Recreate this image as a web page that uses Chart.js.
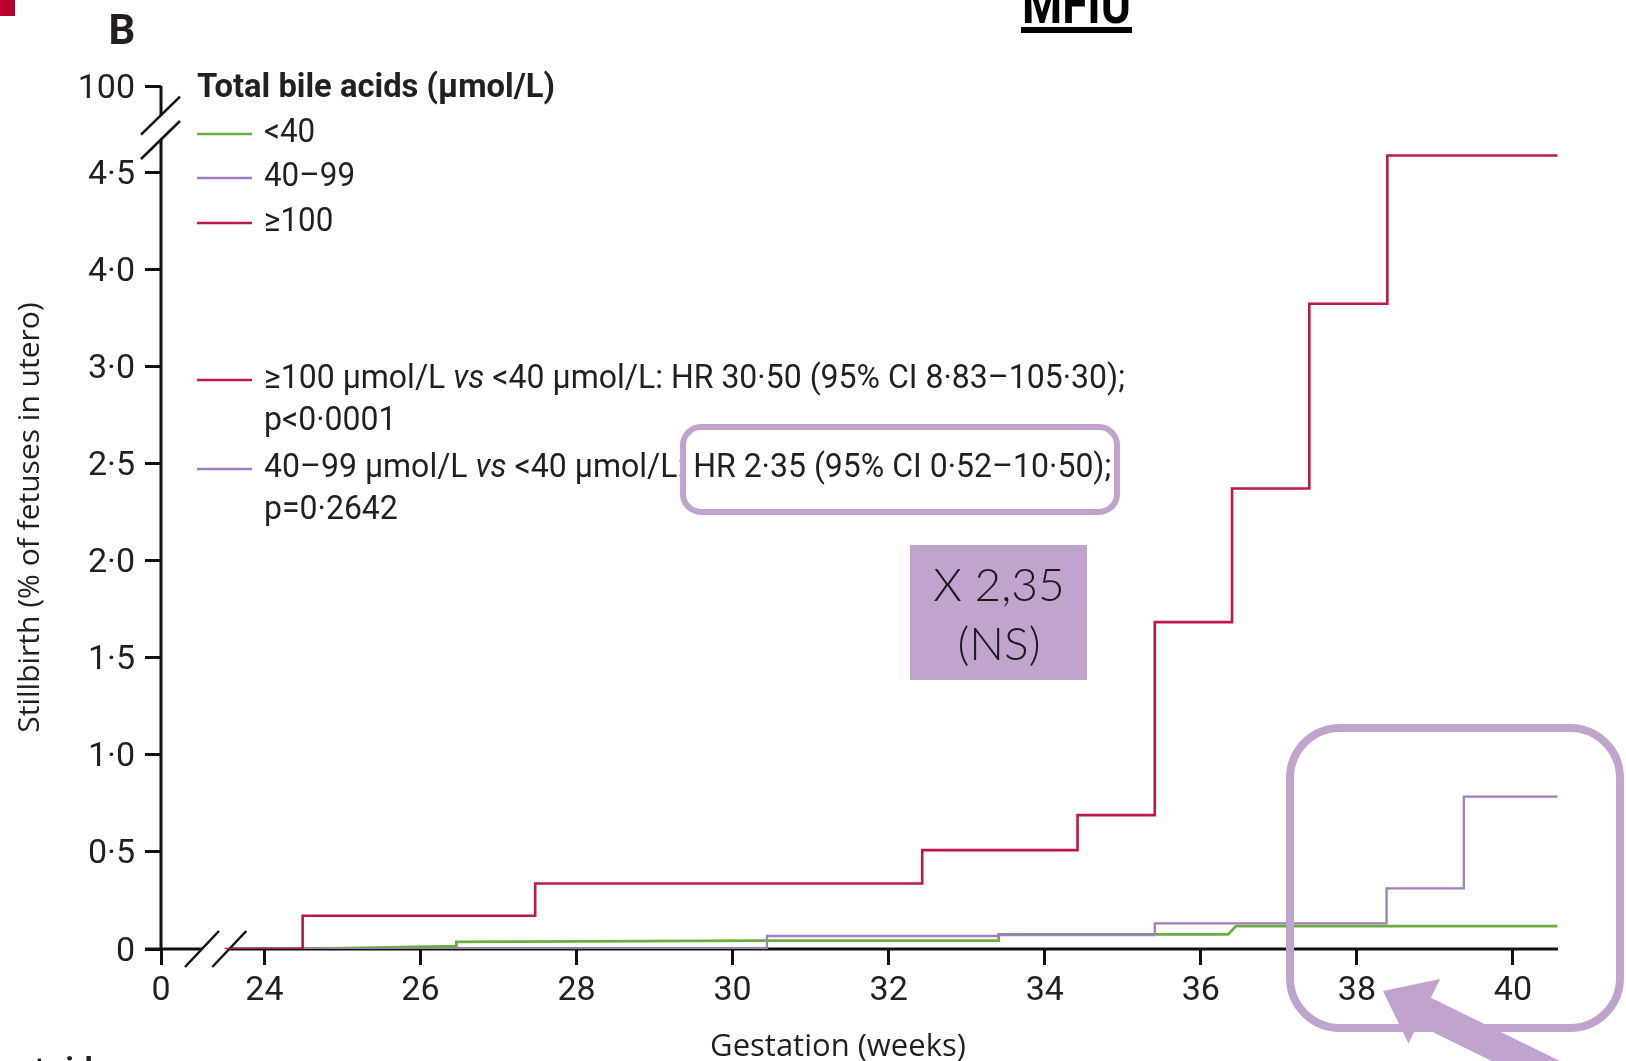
<!DOCTYPE html>
<html>
<head>
<meta charset="utf-8">
<script src="https://cdn.jsdelivr.net/npm/chart.js@4.4.1/dist/chart.umd.min.js"></script>
<style>
html, body { margin: 0; padding: 0; background: #fff; overflow: hidden; }
canvas { display: block; }
</style>
</head>
<body>
<canvas id="km" width="1626" height="1061"></canvas>
<script>
// gestation (weeks) and cumulative stillbirth (y in axis units)
const groupNames = ['<40', '40–99', '≥100'];

const redWeeks = [23.49, 24.49, 27.47, 32.43, 34.42, 35.41, 36.40, 37.39, 38.39, 40.57];
const redRisk  = [0, 0.171, 0.337, 0.509, 0.689, 1.683, 2.371, 3.322, 4.085, 4.085];

const purpleWeeks = [24.49, 30.44, 33.41, 35.41, 38.38, 39.37, 40.57];
const purpleRisk  = [0, 0.067, 0.072, 0.132, 0.312, 0.784, 0.784];

const greenWeeks = [24.49, 26.46, 26.46, 30.40, 33.41, 33.41, 36.35, 36.45, 40.57];
const greenRisk  = [0, 0.015, 0.037, 0.043, 0.043, 0.075, 0.075, 0.118, 0.118];

const xTickValues = [22.675, 24, 26, 28, 30, 32, 34, 36, 38, 40];
const xTickLabels = ['0', '24', '26', '28', '30', '32', '34', '36', '38', '40'];
const yTickValues = [0, 0.5, 1, 1.5, 2, 2.5, 3, 3.5, 4, 4.443];
const yTickLabels = ['0', '0·5', '1·0', '1·5', '2·0', '2·5', '3·0', '4·0', '4·5', '100'];

const SANS = 'Roboto, "Liberation Sans", sans-serif';
const INK = '#231f20';
const RED = '#c0174a', PURPLE = '#a07ec0', GREEN = '#6aaf3c';
const MAUVE = '#c0a4cd';

function pts(xs, ys) { return xs.map((x, i) => ({x: x, y: ys[i]})); }

function seg(ctx, x1, y1, x2, y2) {
    ctx.beginPath(); ctx.moveTo(x1, y1); ctx.lineTo(x2, y2); ctx.stroke();
}

// text squeezed horizontally by sq
function sqText(ctx, text, x, y, sq) {
    ctx.save();
    ctx.translate(x, y);
    ctx.scale(sq, 1);
    ctx.fillText(text, 0, 0);
    ctx.restore();
    return ctx.measureText(text).width * sq;
}

function partsWidth(ctx, parts, size) {
    let w = 0;
    parts.forEach(p => {
        ctx.font = (p[1] ? 'italic ' : '') + size + 'px ' + SANS;
        w += ctx.measureText(p[0]).width;
    });
    return w;
}

const overlay = {
    id: 'overlay',
    beforeDraw(chart) {
        const ctx = chart.ctx;
        ctx.save();
        ctx.fillStyle = '#fff';
        ctx.fillRect(0, 0, chart.width, chart.height);
        ctx.restore();
    },
    beforeDatasetsDraw(chart) {
        const ctx = chart.ctx;
        const xs = chart.scales.x, ys = chart.scales.y;
        const ax = ys.getPixelForValue(0);
        const left = xs.getPixelForValue(xs.min);
        ctx.save();
        ctx.strokeStyle = '#111';
        ctx.lineWidth = 3;
        ctx.lineCap = 'butt';
        const brk1 = xs.getPixelForValue(23.2), brk2 = xs.getPixelForValue(23.55);
        seg(ctx, left - 16, ax, brk1, ax);
        seg(ctx, brk2, ax, xs.getPixelForValue(xs.max), ax);
        const ybLow = ys.getPixelForValue(4.165), ybHigh = ys.getPixelForValue(4.29);
        seg(ctx, left, ax, left, ybLow);
        seg(ctx, left, ybHigh, left, ys.getPixelForValue(ys.max));
        ctx.lineWidth = 2.5;
        [ybLow, ybHigh].forEach(y => seg(ctx, left - 20, y + 19, left + 19, y - 19));
        [brk1, brk2].forEach(x => seg(ctx, x - 17, ax + 18, x + 17, ax - 18));
        ctx.restore();
    },
    afterDraw(chart) {
        const ctx = chart.ctx;
        ctx.save();

        // legend
        const ds = chart.data.datasets;
        ctx.fillStyle = INK;
        ctx.textBaseline = 'middle';
        ctx.textAlign = 'left';
        ctx.font = 'bold 33px ' + SANS;
        const title = 'Total bile acids (µmol/L)';
        sqText(ctx, title, 197, 89, 358 / ctx.measureText(title).width);
        const legendY = [134, 178, 223];
        ctx.font = '33px ' + SANS;
        ctx.lineWidth = 2.5;
        [2, 1, 0].forEach((di, k) => {
            ctx.strokeStyle = ds[di].borderColor;
            seg(ctx, 197, legendY[k], 252, legendY[k]);
            sqText(ctx, groupNames[k], 264, legendY[k], 0.95);
        });

        // hazard ratios
        const hr1 = [['≥100 µmol/L ', 0], ['vs', 1], [' <40 µmol/L: HR 30·50 (95% CI 8·83–105·30);', 0]];
        const hr2 = [['40–99 µmol/L ', 0], ['vs', 1], [' <40 µmol/L: HR 2·35 (95% CI 0·52–10·50);', 0]];
        const sq = 861 / partsWidth(ctx, hr1, 33);
        function rich(parts, x, y) {
            parts.forEach(p => {
                ctx.font = (p[1] ? 'italic ' : '') + '33px ' + SANS;
                x += sqText(ctx, p[0], x, y, sq);
            });
        }
        ctx.strokeStyle = RED;
        seg(ctx, 197, 380, 252, 380);
        rich(hr1, 264, 380);
        rich([['p<0·0001', 0]], 264, 422);
        ctx.strokeStyle = PURPLE;
        seg(ctx, 197, 469, 252, 469);
        rich(hr2, 264, 469);
        rich([['p=0·2642', 0]], 264, 511);

        // axis title x
        ctx.font = '31px "Open Sans", sans-serif';
        ctx.textAlign = 'center';
        ctx.fillText('Gestation (weeks)', 838, 1047);

        // panel letter, headline, corner mark, cut text
        ctx.font = 'bold 42px ' + SANS;
        ctx.fillText('B', 122, 33);
        ctx.font = 'bold 56px ' + SANS;
        ctx.textBaseline = 'alphabetic';
        ctx.textAlign = 'left';
        ctx.fillStyle = '#000';
        const head = 'MFIU';
        sqText(ctx, head, 1022, 23, 109 / ctx.measureText(head).width);
        ctx.fillRect(1021, 27, 111, 6);
        ctx.fillStyle = '#b8002f';
        ctx.fillRect(0, 0, 15, 16);
        ctx.fillStyle = INK;
        ctx.font = 'bold 30px "Open Sans", sans-serif';
        ctx.fillText('antaid', -4, 1079);

        // annotations
        ctx.strokeStyle = MAUVE;
        ctx.lineWidth = 6;
        ctx.beginPath(); ctx.roundRect(683, 427, 434, 85, 18); ctx.stroke();
        ctx.lineWidth = 8;
        ctx.beginPath(); ctx.roundRect(1290, 728, 330, 300, 50); ctx.stroke();
        ctx.fillStyle = MAUVE;
        ctx.fillRect(910, 545, 177, 135);
        ctx.fillStyle = '#1a1a1a';
        ctx.textAlign = 'center';
        ctx.textBaseline = 'middle';
        ctx.font = '300 46px Lato, sans-serif';
        ctx.fillText('X 2,35', 999, 586);
        ctx.fillText('(NS)', 999, 645);

        // arrow
        const tip = {x: 1383, y: 991};
        const a = Math.atan2(0.49, 1);
        const ux = Math.cos(a), uy = Math.sin(a), nx = -uy, ny = ux;
        const hl = 46, hw = 36, sw = 15, L = 320;
        const P = (d, w) => [tip.x + ux * d + nx * w, tip.y + uy * d + ny * w];
        const poly = [P(0, 0), P(hl, hw), P(hl, sw), P(L, sw), P(L, -sw), P(hl, -sw), P(hl, -hw)];
        ctx.fillStyle = MAUVE;
        ctx.beginPath();
        poly.forEach((p, i) => i ? ctx.lineTo(p[0], p[1]) : ctx.moveTo(p[0], p[1]));
        ctx.closePath();
        ctx.fill();
        ctx.restore();
    }
};

new Chart(document.getElementById('km'), {
    type: 'line',
    data: {
        datasets: [
            {label: groupNames[2], data: pts(redWeeks, redRisk), borderColor: RED, borderWidth: 2.6, stepped: true},
            {label: groupNames[1], data: pts(purpleWeeks, purpleRisk), borderColor: PURPLE, borderWidth: 2.3, stepped: true},
            {label: groupNames[0], data: pts(greenWeeks, greenRisk), borderColor: GREEN, borderWidth: 2.8, stepped: false}
        ]
    },
    options: {
        responsive: false,
        animation: false,
        events: [],
        layout: {padding: {left: 0, right: 68, top: 86, bottom: 0}},
        elements: {point: {radius: 0}, line: {tension: 0, fill: false}},
        plugins: {legend: {display: false}, tooltip: {enabled: false}},
        scales: {
            x: {
                type: 'linear', min: 22.675, max: 40.577,
                afterFit: s => { s.height = 112; },
                afterBuildTicks: s => { s.ticks = xTickValues.map(v => ({value: v})); },
                ticks: {
                    callback: (v, i) => xTickLabels[i],
                    autoSkip: false, maxRotation: 0, padding: 6,
                    color: INK, font: {family: SANS, size: 34}
                },
                grid: {drawOnChartArea: false, tickLength: 16, color: '#111', lineWidth: 3},
                border: {display: false}
            },
            y: {
                type: 'linear', min: 0, max: 4.443,
                afterFit: s => { s.width = 161; },
                afterBuildTicks: s => { s.ticks = yTickValues.map(v => ({value: v})); },
                ticks: {
                    callback: (v, i) => yTickLabels[i],
                    autoSkip: false, padding: 10, labelOffset: 3,
                    color: INK, font: {family: SANS, size: 34}
                },
                grid: {drawOnChartArea: false, tickLength: 16, color: '#111', lineWidth: 3},
                border: {display: false},
                title: {
                    display: true, text: 'Stillbirth (% of fetuses in utero)',
                    color: INK, font: {family: '"Open Sans", sans-serif', size: 30},
                    padding: {top: 12, bottom: 0}
                }
            }
        }
    },
    plugins: [overlay]
});
</script>
</body>
</html>
